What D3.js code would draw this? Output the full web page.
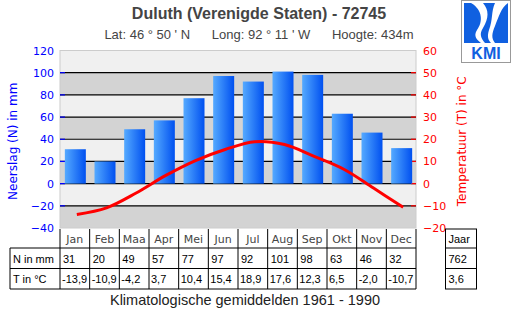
<!DOCTYPE html>
<html>
<head>
<meta charset="utf-8">
<script src="https://cdn.jsdelivr.net/npm/d3@7"></script>
<style>
  body { margin: 0; background: #fff; }
  svg { display: block; }
</style>
</head>
<body>
<div id="chart"></div>
<script>
const months = ['Jan', 'Feb', 'Maa', 'Apr', 'Mei', 'Jun', 'Jul', 'Aug', 'Sep', 'Okt', 'Nov', 'Dec']
const precip = [31, 20, 49, 57, 77, 97, 92, 101, 98, 63, 46, 32]
const temp = [-13.9, -10.9, -4.2, 3.7, 10.4, 15.4, 18.9, 17.6, 12.3, 6.5, -2.0, -10.7]
const precipTicks = [120, 100, 80, 60, 40, 20, 0, -20, -40]
const tempTicks = [60, 50, 40, 30, 20, 10, 0, -10, -20]
const yearPrecip = '762'
const yearTemp = '3,6'

const W = 516, H = 310
const plotL = 60, plotR = 416, plotT = 50.5, plotB = 228

const svg = d3.select('#chart').append('svg').attr('width', W).attr('height', H)

// titles
svg.append('text').text('Duluth (Verenigde Staten) - 72745')
    .attr('x', 259).attr('y', 19).attr('text-anchor', 'middle')
    .style('font', 'bold 16px "Liberation Sans", Arial, sans-serif').style('fill', '#444')
svg.append('text').text('Lat: 46 ° 50 \' N      Long: 92 ° 11 \' W      Hoogte: 434m')
    .attr('x', 259).attr('y', 39).attr('text-anchor', 'middle')
    .attr('xml:space', 'preserve').style('white-space', 'pre')
    .style('font', '13px "Liberation Sans", Arial, sans-serif').style('fill', '#444')

// scales
const x = d3.scaleBand().domain(months).range([plotL, plotR])
const yP = d3.scaleLinear().domain([-40, 120]).range([plotB, plotT])
const yT = d3.scaleLinear().domain([-20, 60]).range([plotB, plotT])

// background stripes
const plot = svg.append('g')
d3.pairs(precipTicks).forEach(([a, b], i) => {
    plot.append('rect')
        .attr('x', plotL).attr('y', yP(a))
        .attr('width', plotR - plotL).attr('height', yP(b) - yP(a))
        .attr('fill', i % 2 === 0 ? '#f0f0f0' : '#d3d3d3')
})
plot.append('rect').attr('x', plotL).attr('y', plotT).attr('width', plotR - plotL).attr('height', plotB - plotT)
    .attr('fill', 'none').attr('stroke', '#ccc')

// grid lines
precipTicks.slice(1, -1).forEach(t => {
    plot.append('line').attr('x1', plotL).attr('x2', plotR).attr('y1', yP(t)).attr('y2', yP(t))
        .attr('stroke', '#000').attr('stroke-width', 1.2)
    plot.append('line').attr('x1', plotL).attr('x2', plotL + 5).attr('y1', yP(t)).attr('y2', yP(t))
        .attr('stroke', '#00f').attr('stroke-width', 1.2)
    plot.append('line').attr('x1', plotR - 5).attr('x2', plotR).attr('y1', yP(t)).attr('y2', yP(t))
        .attr('stroke', '#f00').attr('stroke-width', 1.2)
})

// axes
const axL = svg.append('g').attr('transform', `translate(${plotL - 6},0)`)
    .call(d3.axisLeft(yP).tickValues(precipTicks).tickSize(0).tickPadding(0))
axL.select('.domain').remove()
axL.selectAll('text').style('font', '11px "DejaVu Sans", sans-serif').style('fill', '#00f')

const axR = svg.append('g').attr('transform', `translate(${plotR + 7},0)`)
    .call(d3.axisRight(yT).tickValues(tempTicks).tickSize(0).tickPadding(0))
axR.select('.domain').remove()
axR.selectAll('text').style('font', '11px "DejaVu Sans", sans-serif').style('fill', '#f00')

svg.append('text').text('Neerslag (N) in mm')
    .attr('transform', `translate(17,${(plotT + plotB) / 2 + 2}) rotate(-90)`).attr('text-anchor', 'middle')
    .style('font', '12px "DejaVu Sans", sans-serif').style('fill', '#00f')
svg.append('text').text('Temperatuur (T) in °C')
    .attr('transform', `translate(466,${(plotT + plotB) / 2 + 2}) rotate(-90)`).attr('text-anchor', 'middle')
    .style('font', '12px "DejaVu Sans", sans-serif').style('fill', '#f00')

// bars
const grad = svg.append('defs').append('linearGradient').attr('id', 'barGrad')
    .attr('x1', '0%').attr('x2', '100%').attr('y1', '0%').attr('y2', '0%')
grad.append('stop').attr('offset', '0%').attr('stop-color', '#55aaff')
grad.append('stop').attr('offset', '100%').attr('stop-color', '#0050f0')

const bw = 21
svg.append('g').selectAll('rect').data(precip).enter().append('rect')
    .attr('x', (d, i) => x(months[i]) + x.bandwidth() / 2 - bw / 2 + 0.5)
    .attr('y', d => yP(d))
    .attr('width', bw)
    .attr('height', d => yP(0) - yP(d))
    .attr('fill', 'url(#barGrad)')

// temperature line
const line = d3.line()
    .x((d, i) => x(months[i]) + x.bandwidth() / 2 + 2)
    .y(d => yT(d))
    .curve(d3.curveCatmullRom)
svg.append('path').datum(temp).attr('d', line)
    .attr('fill', 'none').attr('stroke', '#f00').attr('stroke-width', 3)

// table
const tbl = svg.append('g')
const r0 = 229, r1 = 248, r2 = 268.5, r3 = 289
const tfont = '11px "Liberation Sans", Arial, sans-serif'
months.forEach((m, i) => {
    const cx = x(m)
    tbl.append('line').attr('x1', cx).attr('x2', cx).attr('y1', r0).attr('y2', r3).attr('stroke', '#000')
    tbl.append('text').text(m).attr('x', cx + x.bandwidth() / 2).attr('y', r1 - 5)
        .attr('text-anchor', 'middle').style('font', '11px "DejaVu Sans", sans-serif').style('fill', '#444')
    tbl.append('text').text(precip[i]).attr('x', cx + 3).attr('y', r2 - 6).style('font', tfont)
    tbl.append('text').text(temp[i].toFixed(1).replace('.', ',')).attr('x', cx + 2).attr('y', r3 - 6).style('font', tfont)
})
tbl.append('line').attr('x1', plotR).attr('x2', plotR).attr('y1', r0).attr('y2', r3).attr('stroke', '#000')
tbl.append('line').attr('x1', 10).attr('x2', 10).attr('y1', r1).attr('y2', r3).attr('stroke', '#000')
;[r1, r2, r3].forEach(r => {
    tbl.append('line').attr('x1', 10).attr('x2', plotR).attr('y1', r).attr('y2', r).attr('stroke', '#000')
})
tbl.append('text').text('N in mm').attr('x', 13).attr('y', r2 - 6).style('font', tfont)
tbl.append('text').text('T in °C').attr('x', 13).attr('y', r3 - 6).style('font', tfont)

// Jaar box
const jx = 445.5, jw = 31
tbl.append('rect').attr('x', jx).attr('y', r0).attr('width', jw).attr('height', r3 - r0)
    .attr('fill', 'none').attr('stroke', '#000')
;[r1, r2].forEach(r => {
    tbl.append('line').attr('x1', jx).attr('x2', jx + jw).attr('y1', r).attr('y2', r).attr('stroke', '#000')
})
tbl.append('text').text('Jaar').attr('x', jx + 3).attr('y', r1 - 5).style('font', tfont)
tbl.append('text').text(yearPrecip).attr('x', jx + 3).attr('y', r2 - 6).style('font', tfont)
tbl.append('text').text(yearTemp).attr('x', jx + 3).attr('y', r3 - 6).style('font', tfont)

// footer
svg.append('text').text('Klimatologische gemiddelden 1961 - 1990')
    .attr('x', 245).attr('y', 305).attr('text-anchor', 'middle')
    .style('font', '14.5px "Liberation Sans", Arial, sans-serif').style('fill', '#222')

// KMI logo
const logo = svg.append('g').attr('transform', 'translate(461,0)')
logo.append('rect').attr('x', 0.5).attr('y', 0.5).attr('width', 49).attr('height', 62)
    .attr('fill', '#fff').attr('stroke', '#999')
logo.append('rect').attr('x', 3).attr('y', 3).attr('width', 44).attr('height', 40).attr('fill', '#1060e0')
logo.append('path').attr('d', 'M10,3 C22,10 22,22 16,30 C12,36 16,40 20,43 L24,43 C20,38 18,34 22,28 C28,18 28,10 22,3 Z')
    .attr('fill', '#fff')
logo.append('path').attr('d', 'M34,3 C30,12 32,20 28,30 C26,36 27,40 30,43 L34,43 C30,38 31,33 34,26 C38,16 40,8 47,3 Z')
    .attr('fill', '#fff')
logo.append('text').text('KMI').attr('x', 25).attr('y', 59).attr('text-anchor', 'middle')
    .style('font', 'bold 16px "Liberation Sans", Arial, sans-serif').style('fill', '#1060e0')
</script>
</body>
</html>
